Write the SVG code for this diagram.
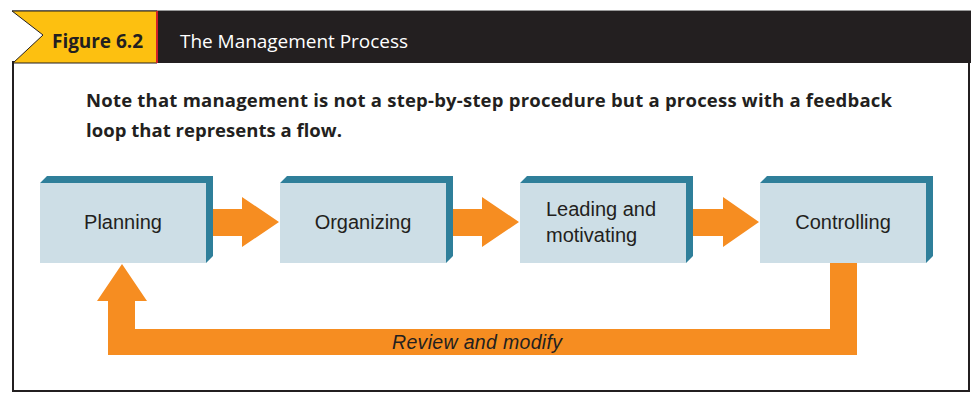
<svg xmlns="http://www.w3.org/2000/svg" width="973" height="393" viewBox="0 0 973 393">
<style>
.face{fill:#cddee6}
.side{fill:#2f7f9a}
.lbl{font-family:"Liberation Sans",Arial,sans-serif;font-size:20px;fill:#231f20}
.arrow{fill:#f68d21}
</style>
<rect x="0" y="0" width="973" height="393" fill="#ffffff"/>
<g id="frame">
<rect x="13" y="62" width="956" height="329" fill="none" stroke="#231f20" stroke-width="2"/>
<line x1="12" y1="10.5" x2="971" y2="10.5" stroke="#9a9a9a" stroke-width="1"/>
<rect x="157" y="11" width="814" height="52" fill="#231f20"/>
<polygon points="12,11 157,11 157,63 13,63 43,35" fill="#fdc010" stroke="#231f20" stroke-width="1"/>
<line x1="157" y1="11" x2="157" y2="63" stroke="#d02027" stroke-width="2"/>
<text x="52" y="48" font-family="'Open Sans','Liberation Sans',sans-serif" font-weight="bold" font-size="19" textLength="91" fill="#231f20">Figure 6.2</text>
<text x="180" y="48" font-family="'Open Sans','Liberation Sans',sans-serif" font-size="19" textLength="228" fill="#ffffff">The Management Process</text>
<text font-family="'Open Sans','Liberation Sans',sans-serif" font-weight="bold" font-size="18.5" fill="#231f20"><tspan x="86" y="107" textLength="806">Note that management is not a step-by-step procedure but a process with a feedback</tspan><tspan x="86" y="137" textLength="256">loop that represents a flow.</tspan></text>
</g>
<g id="connectors">
<polygon class="arrow" points="213,209 242,209 242,197 279,222 242,247 242,236 213,236"/>
<polygon class="arrow" points="453,209 482,209 482,197 519,222 482,247 482,236 453,236"/>
<polygon class="arrow" points="693,209 723,209 723,197 759,222 723,247 723,236 693,236"/>
<polygon class="arrow" points="830,263 857,263 857,355 108,355 108,301 97,301 122,264 147,301 135,301 135,329 830,329"/>
<text x="392" y="349" font-family="'Liberation Sans',Arial,sans-serif" font-style="italic" font-size="19.5" textLength="170" fill="#231f20">Review and modify</text>
</g>
<g id="planning">
<polygon class="side" points="40,183 47,176 213,176 213,256 206,263 206,183"/>
<rect class="face" x="40" y="183" width="166" height="80"/>
<text class="lbl" x="123" y="229" text-anchor="middle">Planning</text>
</g>
<g id="organizing">
<polygon class="side" points="280,183 287,176 453,176 453,256 446,263 446,183"/>
<rect class="face" x="280" y="183" width="166" height="80"/>
<text class="lbl" x="363" y="229" text-anchor="middle">Organizing</text>
</g>
<g id="leading">
<polygon class="side" points="520,183 527,176 693,176 693,256 686,263 686,183"/>
<rect class="face" x="520" y="183" width="166" height="80"/>
<text class="lbl"><tspan x="546" y="216">Leading and</tspan><tspan x="546" y="242">motivating</tspan></text>
</g>
<g id="controlling">
<polygon class="side" points="760,183 767,176 933,176 933,256 926,263 926,183"/>
<rect class="face" x="760" y="183" width="166" height="80"/>
<text class="lbl" x="843" y="229" text-anchor="middle">Controlling</text>
</g>
</svg>
